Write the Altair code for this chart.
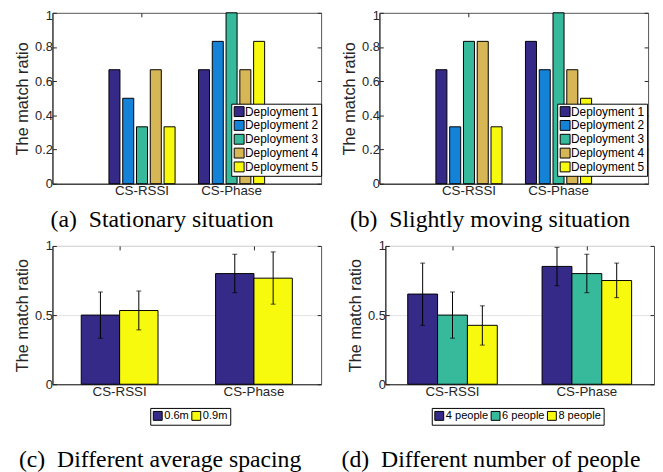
import altair as alt
import pandas as pd

METHODS = ["CS-RSSI", "CS-Phase"]

DEPLOYMENTS = ["Deployment 1", "Deployment 2", "Deployment 3", "Deployment 4", "Deployment 5"]
DEPLOY_COLORS = ["#352a87", "#1482d6", "#37b99b", "#d6b655", "#f8fa0d"]

STATIONARY_RSSI = [0.667, 0.5, 0.333, 0.667, 0.333]
STATIONARY_PHASE = [0.667, 0.833, 1.0, 0.667, 0.833]

MOVING_RSSI = [0.667, 0.333, 0.833, 0.833, 0.333]
MOVING_PHASE = [0.833, 0.667, 1.0, 0.667, 0.5]

SPACINGS = ["0.6m", "0.9m"]
SPACING_COLORS = ["#352a87", "#f8fa0d"]
SPACING_RSSI = [0.5, 0.533]
SPACING_RSSI_LO = [0.333, 0.393]
SPACING_RSSI_HI = [0.667, 0.674]
SPACING_PHASE = [0.8, 0.767]
SPACING_PHASE_LO = [0.662, 0.579]
SPACING_PHASE_HI = [0.94, 0.957]

PEOPLE = ["4 people", "6 people", "8 people"]
PEOPLE_COLORS = ["#352a87", "#37b99b", "#f8fa0d"]
PEOPLE_RSSI = [0.652, 0.5, 0.426]
PEOPLE_RSSI_LO = [0.426, 0.333, 0.283]
PEOPLE_RSSI_HI = [0.876, 0.667, 0.567]
PEOPLE_PHASE = [0.852, 0.8, 0.75]
PEOPLE_PHASE_LO = [0.712, 0.662, 0.626]
PEOPLE_PHASE_HI = [0.99, 0.94, 0.876]

TICKS_FINE = [0, 0.2, 0.4, 0.6, 0.8, 1]
TICKS_COARSE = [0, 0.5, 1]

NB = "\u00a0"
CAPTIONS = ["(a)" + NB + NB + "Stationary situation", "(b)" + NB + NB + "Slightly moving situation",
            "(c)" + NB + NB + "Different average spacing", "(d)" + NB + NB + "Different number of people"]

AX = "#262626"
SANS = "Liberation Sans"
SERIF = "Liberation Serif"
INWARD = alt.ExprRef(expr="-4")


def make_df(series, rssi, phase, rssi_lo=None, rssi_hi=None, phase_lo=None, phase_hi=None):
    rows = []
    for i, s in enumerate(series):
        rows.append({"method": "CS-RSSI", "series": s, "value": rssi[i],
                     "lo": rssi_lo[i] if rssi_lo else None, "hi": rssi_hi[i] if rssi_hi else None})
        rows.append({"method": "CS-Phase", "series": s, "value": phase[i],
                     "lo": phase_lo[i] if phase_lo else None, "hi": phase_hi[i] if phase_hi else None})
    return pd.DataFrame(rows)


def panel(df, series, colors, yticks, height, group_frac, left_slot, bar_gap,
          legend, caption, cap_dx, cap_offset, grid, errors, top_label_shift):
    xscale = alt.Scale(domain=METHODS, paddingInner=1 - group_frac,
                       paddingOuter=left_slot - group_frac / 2)
    x = alt.X("method:N", sort=METHODS, scale=xscale,
              axis=alt.Axis(title=None, labelAngle=0, ticks=True, tickSize=INWARD, tickColor=AX,
                            labelPadding=4, labelFont=SANS, labelFontSize=13.5, labelColor=AX,
                            domainColor=AX, domainWidth=1))
    x_top = alt.X("method:N", sort=METHODS, scale=xscale,
                  axis=alt.Axis(orient="top", title=None, labels=False, domain=False,
                                ticks=True, tickSize=INWARD, tickColor=AX))
    xo = alt.XOffset("series:N", sort=series,
                     scale=alt.Scale(domain=series, paddingInner=bar_gap, paddingOuter=bar_gap / 2))
    yscale = alt.Scale(domain=[0, 1], nice=False, zero=True)
    label_offset = {"condition": {"test": "datum.value == 1", "value": top_label_shift}, "value": 0}
    y_left = alt.Y("value:Q", scale=yscale,
                   axis=alt.Axis(title="The match ratio", values=yticks, format="~g",
                                 grid=grid, gridColor="#e3e3e3", gridWidth=1,
                                 tickSize=INWARD, tickColor=AX, labelOffset=label_offset,
                                 labelPadding=4, labelFont=SANS, labelFontSize=13, labelColor=AX,
                                 titleFont=SANS, titleFontSize=16.5, titleFontWeight="normal",
                                 titleColor=AX, titlePadding=4, domainColor=AX, domainWidth=1))
    color = alt.Color("series:N", sort=series, scale=alt.Scale(domain=series, range=colors),
                      legend=legend)
    base = alt.Chart(df)
    bars = base.mark_bar(stroke="black", strokeWidth=1).encode(x=x, xOffset=xo, y=y_left, color=color)
    y_right = alt.Y("value:Q", scale=yscale,
                    axis=alt.Axis(orient="right", title=None, values=yticks, labels=False,
                                  grid=False, domain=False, tickSize=INWARD, tickColor=AX))
    frame = base.mark_point(opacity=0).encode(x=x_top, y=y_right)
    layers = [bars]
    if errors:
        ylo = alt.Y("lo:Q", scale=yscale, axis=None)
        yhi = alt.Y("hi:Q", scale=yscale, axis=None)
        xn = alt.X("method:N", sort=METHODS, scale=xscale, axis=None)
        layers.append(base.mark_rule(color="black", strokeWidth=1).encode(
            x=xn, xOffset=xo, y=ylo, y2="hi:Q"))
        layers.append(base.mark_tick(color="black", size=5, thickness=1).encode(
            x=xn, xOffset=xo, y=ylo))
        layers.append(base.mark_tick(color="black", size=5, thickness=1).encode(
            x=xn, xOffset=xo, y=yhi))
    layers.append(frame)
    return alt.layer(*layers).resolve_axis(y="independent", x="independent").properties(
        width=272, height=height,
        title=alt.TitleParams(text=caption, orient="bottom", anchor="middle", frame="group",
                              font=SERIF, fontSize=24, fontWeight="normal", color="black",
                              dx=cap_dx, offset=cap_offset))


def legend_inside(lx, ly):
    return alt.Legend(title=None, orient="none", legendX=lx, legendY=ly, fillColor="white",
                      strokeColor="black", padding=2, symbolType="square",
                      symbolSize=100, symbolStrokeColor="black", symbolStrokeWidth=1,
                      labelFont=SANS, labelFontSize=12, labelColor="black", rowPadding=0,
                      labelOffset=0)


def legend_below(lx, ly):
    return alt.Legend(title=None, orient="none", legendX=lx, legendY=ly, direction="horizontal",
                      fillColor="white", strokeColor="black", padding=2,
                      symbolType="square", symbolSize=81, symbolStrokeColor="black",
                      symbolStrokeWidth=1, labelFont=SANS, labelFontSize=11.2, labelColor="black",
                      columnPadding=0, labelOffset=1)


df_a = make_df(DEPLOYMENTS, STATIONARY_RSSI, STATIONARY_PHASE)
df_b = make_df(DEPLOYMENTS, MOVING_RSSI, MOVING_PHASE)
df_c = make_df(SPACINGS, SPACING_RSSI, SPACING_PHASE, SPACING_RSSI_LO, SPACING_RSSI_HI,
               SPACING_PHASE_LO, SPACING_PHASE_HI)
df_d = make_df(PEOPLE, PEOPLE_RSSI, PEOPLE_PHASE, PEOPLE_RSSI_LO, PEOPLE_RSSI_HI,
               PEOPLE_PHASE_LO, PEOPLE_PHASE_HI)

pa = panel(df_a, DEPLOYMENTS, DEPLOY_COLORS, TICKS_FINE, 173, 5 / 6.5, 1.0, 0.2,
           legend_inside(181, 92), CAPTIONS[0], -25, 11, False, False, 3)
pb = panel(df_b, DEPLOYMENTS, DEPLOY_COLORS, TICKS_FINE, 173, 5 / 6.5, 1.0, 0.2,
           legend_inside(180, 92), CAPTIONS[1], -24, 11, False, False, 3)
pc = panel(df_c, SPACINGS, SPACING_COLORS, TICKS_COARSE, 140, 2 / 3.5, 0.5, 0.0,
           legend_below(99, 164), CAPTIONS[2], -27, 23, True, True, 0)
pd_ = panel(df_d, PEOPLE, PEOPLE_COLORS, TICKS_COARSE, 140, 3 / 4.5, 0.5, 0.0,
            legend_below(47, 164), CAPTIONS[3], -29, 23, True, True, 0)

RES = dict(color="independent", x="independent", y="independent", xOffset="independent")
top = alt.hconcat(pa, pb, spacing=19).resolve_scale(**RES)
bottom = alt.hconcat(pc, pd_, spacing=19).resolve_scale(**RES)

chart = alt.vconcat(top, bottom, spacing=7).resolve_scale(**RES).properties(
    padding={"left": 6, "top": -2, "right": 0, "bottom": 0},
    background="white",
).configure_view(stroke="#555555", strokeWidth=1)

chart.save("out.html", embed_options={"renderer": "svg", "actions": False})
